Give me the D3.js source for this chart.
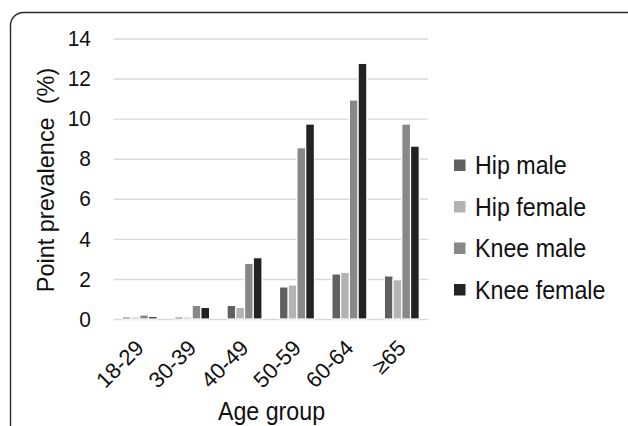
<!DOCTYPE html>
<html lang="en">
<head>
    <meta charset="UTF-8">
    <script src="https://d3js.org/d3.v7.min.js"></script>
    <title>Point prevalence</title>
    <style>
      body { margin: 0; background: #fff; }
      text { font-family: "Liberation Sans", Arial, sans-serif; fill: #111; }
    </style>
</head>
<body>
    <div id="container"></div>
<script>
    // data
    var categories = ["18-29", "30-39", "40-49", "50-59", "60-64", "\u226565"];
    var seriesNames = ["Hip male", "Hip female", "Knee male", "Knee female"];
    var hipMale    = [0.10, 0.10, 0.68, 1.60, 2.25, 2.15];
    var hipFemale  = [0.10, 0.10, 0.58, 1.70, 2.33, 1.96];
    var kneeMale   = [0.20, 0.68, 2.78, 8.55, 10.93, 9.73];
    var kneeFemale = [0.12, 0.58, 3.06, 9.73, 12.76, 8.63];
    var yTicks = [0, 2, 4, 6, 8, 10, 12, 14];

    var seriesValues = [hipMale, hipFemale, kneeMale, kneeFemale];
    var colors = ["#606060", "#b3b3b3", "#888888", "#232323"];

    var svg_width = 628, svg_height = 426;
    var plot = {left: 113.5, right: 428, top: 38.5, bottom: 319};
    var squeeze = 0.93;   // the picture's text is a bit narrow for its height

    var svg = d3.select("#container").append("svg")
        .attr("width", svg_width).attr("height", svg_height);

    // rounded frame, cut off at right and bottom
    svg.append("rect")
        .attr("x", 10.5).attr("y", 12.5)
        .attr("width", 640).attr("height", 460)
        .attr("rx", 13)
        .style("fill", "none").style("stroke", "#2a2a2a").style("stroke-width", 1.4);

    var y_scale = d3.scaleLinear().domain([0, 14]).range([plot.bottom, plot.top]);
    var x0 = d3.scaleBand().domain(categories).range([plot.left, plot.right])
        .paddingInner(1 / 3).paddingOuter(1 / 6);
    var x1 = d3.scaleBand().domain(seriesNames).range([0, x0.bandwidth()]);

    // gridlines
    var grid = svg.append("g")
        .attr("transform", `translate(${plot.left},0)`)
        .call(d3.axisLeft(y_scale).tickValues(yTicks).tickSize(-(plot.right - plot.left)).tickFormat(""));
    grid.select(".domain").remove();
    grid.selectAll("line").style("stroke", "#d9d9d9").style("stroke-width", 1.4);

    // y tick labels
    var yAxis = svg.append("g")
        .attr("transform", `translate(91,0)`)
        .call(d3.axisLeft(y_scale).tickValues(yTicks).tickSize(0).tickPadding(0));
    yAxis.select(".domain").remove();
    yAxis.selectAll("text")
        .attr("x", 0)
        .attr("transform", `scale(${squeeze},1)`)
        .style("font-size", "22.5px").style("fill", "#111");

    // bars
    var rows = categories.map(function (c, i) {
        return {cat: c, vals: seriesNames.map(function (s, j) { return {name: s, val: seriesValues[j][i], color: colors[j]}; })};
    });
    var group = svg.selectAll(".bar-group")
        .data(rows).enter()
        .append("g")
        .attr("class", "bar-group")
        .attr("transform", function (d) { return `translate(${x0(d.cat)},0)`; });
    group.selectAll("rect")
        .data(function (d) { return d.vals; }).enter()
        .append("rect")
        .attr("x", function (d) { return x1(d.name); })
        .attr("y", function (d) { return y_scale(d.val); })
        .attr("width", x1.bandwidth())
        .attr("height", function (d) { return plot.bottom - y_scale(d.val); })
        .style("fill", function (d) { return d.color; })
        .style("stroke", "#fff").style("stroke-width", 1.2);

    // x tick labels, rotated
    var xAxis = svg.append("g")
        .attr("transform", `translate(0,344)`)
        .call(d3.axisBottom(x0).tickSize(0).tickPadding(0));
    xAxis.select(".domain").remove();
    xAxis.selectAll("text")
        .attr("y", 0).attr("dy", "0.35em")
        .attr("text-anchor", "end")
        .attr("transform", "rotate(-45)")
        .style("font-size", "22px").style("fill", "#111");

    // axis titles
    svg.append("text")
        .attr("transform", `translate(53.5,180) rotate(-90) scale(1,1.05)`)
        .attr("text-anchor", "middle")
        .style("font-size", "23.5px")
        .style("white-space", "pre")
        .text("Point prevalence  (%)");
    svg.append("text")
        .attr("transform", `translate(271.5,420) scale(${squeeze},1)`)
        .attr("text-anchor", "middle")
        .style("font-size", "25px")
        .text("Age group");

    // legend
    var legend = svg.selectAll(".legend")
        .data(seriesNames).enter()
        .append("g")
        .attr("class", "legend")
        .attr("transform", function (d, i) { return `translate(454,${165.5 + i * 41.5})`; });
    legend.append("rect")
        .attr("x", 0).attr("y", -6).attr("width", 11.5).attr("height", 11.5)
        .style("fill", function (d, i) { return colors[i]; });
    legend.append("text")
        .attr("transform", `translate(21,0) scale(${squeeze},1)`)
        .attr("dy", "0.35em")
        .style("font-size", "25px")
        .text(function (d) { return d; });
</script>
</body>
</html>
